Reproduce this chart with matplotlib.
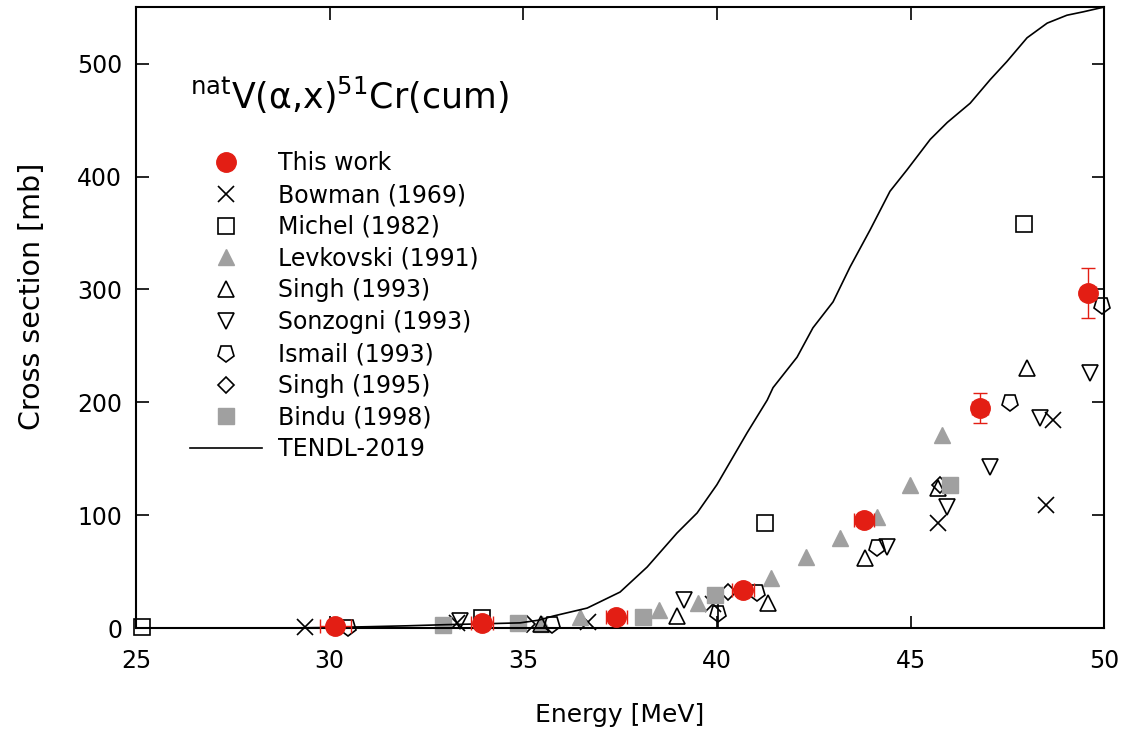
import matplotlib.pyplot as plt
import numpy as np
from matplotlib.lines import Line2D
from matplotlib.markers import MarkerStyle
from matplotlib.transforms import Affine2D

plt.rcParams['font.family'] = ['DejaVu Sans']

# this work
tw_e = [30.14, 33.94, 37.40, 40.68, 43.80, 46.80, 49.59]
tw_s = [1.5, 4.4, 9.8, 33.7, 96, 195, 297]
tw_de = [0.4, 0.28, 0.27, 0.28, 0.25, 0.2, 0.2]
tw_ds = [0.3, 0.5, 1.0, 2.5, 6, 13.5, 22]

bowman_e = [29.36, 33.29, 36.67, 39.90, 45.71, 48.50, 48.68]
bowman_s = [1, 4.4, 5, 21, 93, 109, 184]

michel_e = [25.15, 33.94, 41.24, 47.93]
michel_s = [1, 9, 93, 358]

levk_e = [35.49, 36.47, 38.51, 39.51, 41.40, 42.30, 43.18, 44.14, 44.99, 45.81]
levk_s = [4, 10, 16, 22, 44, 63, 80, 98, 127, 171]

singh93_e = [35.45, 38.97, 41.32, 43.83, 45.71, 48.01]
singh93_s = [4, 11, 22, 62, 124, 230]

sonz_e = [33.37, 39.15, 44.40, 45.95, 47.06, 48.35, 49.64]
sonz_s = [6, 25, 72, 107, 143, 186, 226]

ismail_e = [30.47, 35.74, 40.03, 41.04, 44.14, 47.57, 49.95]
ismail_s = [0.5, 4, 13, 32, 72, 200, 286]
ismail_ds = [0, 0, 12, 0, 0, 0, 0]

singh95_e = [35.10, 40.29, 45.77]
singh95_s = [4, 32, 127]

bindu_e = [32.93, 34.87, 38.10, 39.95, 46.02]
bindu_s = [2.7, 4.4, 10, 29, 127]

tendl_e = [25, 29, 30, 31, 32, 33, 34, 34.92, 35.4, 35.77, 36.65, 37.50, 38.20, 38.97,
           39.49, 40.0, 40.78, 41.30, 41.45, 42.07, 42.48, 43.0, 43.44, 43.96, 44.47,
           44.91, 45.51, 45.95, 46.54, 47.06, 47.49, 48.01, 48.53, 49.04, 49.46, 49.97]
tendl_s = [0, 0.1, 0.5, 1.2, 2.0, 3.0, 3.8, 4.6, 7, 10.6, 17.7, 31.9, 54.1, 84.2,
           102, 127, 173, 202, 213, 240, 266, 289, 320, 353, 387,
           406, 433, 448, 465, 486, 502, 523, 536, 543, 546, 550]

red = '#e31e14'
gray = '#a0a0a0'

fig = plt.figure(figsize=(11.27, 7.32), dpi=100)
ax = fig.add_axes([0.1207, 0.142, 0.859, 0.848])

ms = 12
open_kw = dict(mfc='none', mec='black', mew=1.2, ls='none')
pent = MarkerStyle('p', transform=Affine2D().rotate_deg(180))

ax.errorbar(tw_e, tw_s, xerr=tw_de, yerr=tw_ds, fmt='o', color=red, ms=14,
            elinewidth=1, capsize=5, capthick=1, zorder=5, clip_on=False)
ax.plot(bowman_e, bowman_s, 'x', color='black', ms=11, mew=1.2, clip_on=False)
ax.plot(michel_e, michel_s, 's', ms=ms, clip_on=False, **open_kw)
ax.plot(levk_e, levk_s, '^', color=gray, ms=ms, clip_on=False)
ax.plot(singh93_e, singh93_s, '^', ms=ms, clip_on=False, **open_kw)
ax.plot(sonz_e, sonz_s, 'v', ms=ms, clip_on=False, **open_kw)
ax.errorbar(ismail_e, ismail_s, yerr=ismail_ds, fmt='none', ecolor='black',
            elinewidth=1.2, capsize=0, clip_on=False)
ax.plot(ismail_e, ismail_s, marker=pent, ms=12.5, clip_on=False, **open_kw)
ax.plot(singh95_e, singh95_s, 'D', ms=8, clip_on=False, **open_kw)
ax.plot(bindu_e, bindu_s, 's', color=gray, ms=ms, clip_on=False)
ax.plot(tendl_e, tendl_s, '-', color='black', lw=1.2)

handles = [
    Line2D([], [], marker='o', color=red, ls='none', ms=14),
    Line2D([], [], marker='x', color='black', ls='none', ms=11, mew=1.2),
    Line2D([], [], marker='s', ms=ms, **open_kw),
    Line2D([], [], marker='^', color=gray, ls='none', ms=ms),
    Line2D([], [], marker='^', ms=ms, **open_kw),
    Line2D([], [], marker='v', ms=ms, **open_kw),
    Line2D([], [], marker=pent, ms=12.5, **open_kw),
    Line2D([], [], marker='D', ms=8, **open_kw),
    Line2D([], [], marker='s', color=gray, ls='none', ms=ms),
    Line2D([], [], color='black', lw=1.2),
]
labels = ['This work', 'Bowman (1969)', 'Michel (1982)', 'Levkovski (1991)',
          'Singh (1993)', 'Sonzogni (1993)', 'Ismail (1993)', 'Singh (1995)',
          'Bindu (1998)', 'TENDL-2019']

ax.set_xlim(25, 50)
ax.set_ylim(0, 550)
ax.set_xticks([25, 30, 35, 40, 45, 50])
ax.set_yticks([0, 100, 200, 300, 400, 500])
ax.tick_params(direction='in', length=9, width=1.2, top=True, right=True, labelsize=17)
ax.tick_params(axis='x', pad=15)
ax.tick_params(axis='y', pad=10)
for s in ax.spines.values():
    s.set_linewidth(1.5)
ax.set_xlabel('Energy [MeV]', fontsize=18, labelpad=22)
ax.set_ylabel('Cross section [mb]', fontsize=20.5)
ax.yaxis.set_label_coords(-0.093, 0.535)

ax.text(0.056, 0.858, r'$^{\mathrm{nat}}$V(α,x)$^{51}$Cr(cum)', transform=ax.transAxes,
        fontsize=25, va='center')

ax.legend(handles, labels, loc='upper left', bbox_to_anchor=(0.056, 0.768), frameon=False,
          fontsize=17, handlelength=3.05, handletextpad=0.68, labelspacing=0.33,
          borderaxespad=0, borderpad=0)

fig.savefig('out.png', dpi=100)
